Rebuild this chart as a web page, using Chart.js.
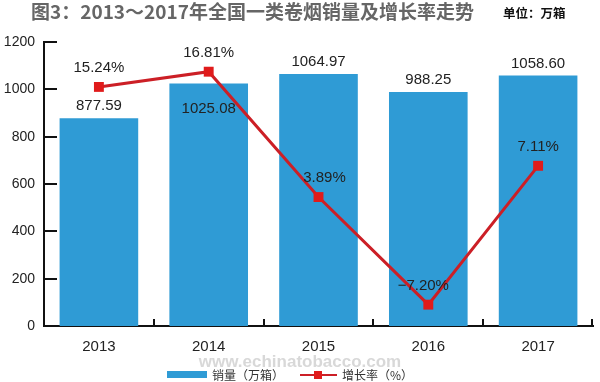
<!DOCTYPE html>
<html><head><meta charset="utf-8">
<script src="https://cdn.jsdelivr.net/npm/chart.js@4.4.0/dist/chart.umd.min.js"></script>
<style>html,body{margin:0;padding:0;background:#fff}#wrap{width:600px;height:382px;position:relative}</style>
</head><body><div id="wrap"><canvas id="c" width="600" height="382"></canvas></div>
<script>
const categories = ['2013', '2014', '2015', '2016', '2017'];
const sales = [877.59, 1025.08, 1064.97, 988.25, 1058.60];
const salesText = ['877.59', '1025.08', '1064.97', '988.25', '1058.60'];
const growth = [15.24, 16.81, 3.89, -7.20, 7.11];
const growthText = ['15.24%', '16.81%', '3.89%', '−7.20%', '7.11%'];
const yTickValues = [0, 200, 400, 600, 800, 1000, 1200];
const salesLabelInside = [false, true, false, false, false];
const titleText = '图3：2013～2017年全国一类卷烟销量及增长率走势';
const unitText = '单位：万箱';
const legendSales = '销量（万箱）';
const legendGrowth = '增长率（%）';
const watermark = 'www.echinatobacco.com';

const BLUE = '#2f9bd5';
const RED = '#cc1f26';
const LATIN = '"Liberation Sans", Arial, sans-serif';
const CJK = '"Noto Sans CJK SC", "Noto Sans", sans-serif';

const extras = {
  id: 'extras',
  afterDatasetsDraw(chart) {
    const ctx = chart.ctx;
    ctx.save();
    ctx.font = '15px ' + LATIN;
    ctx.fillStyle = '#222';
    ctx.textAlign = 'center';
    ctx.textBaseline = 'middle';
    const barMeta = chart.getDatasetMeta(1);
    barMeta.data.forEach((el, i) => {
      const y = salesLabelInside[i] ? el.y + 25 : el.y - 12;
      ctx.fillText(salesText[i], el.x, y);
    });
    const lineMeta = chart.getDatasetMeta(0);
    lineMeta.data.forEach((el, i) => {
      ctx.fillText(growthText[i], el.x + (i === 2 ? 6 : (i === 3 ? -5 : 0)), el.y - 19);
    });
    ctx.restore();
  },
  afterDraw(chart) {
    const ctx = chart.ctx;
    const xs = chart.scales.x, ys = chart.scales.y;
    const left = xs.left, bottom = ys.bottom, right = xs.right;
    ctx.save();
    ctx.fillStyle = '#111';
    yTickValues.forEach(v => {
      const py = Math.round(ys.getPixelForValue(v));
      ctx.fillRect(left, py - 1, 13, 2);
    });
    for (let i = 1; i <= categories.length; i++) {
      let px;
      if (i < categories.length) px = (xs.getPixelForValue(i - 1) + xs.getPixelForValue(i)) / 2;
      else px = right - 1;
      px = Math.round(px);
      ctx.fillRect(px - 1, bottom - 7, 2, 7);
    }
    // title
    ctx.textBaseline = 'middle';
    ctx.textAlign = 'left';
    ctx.fillStyle = '#666';
    ctx.font = 'bold 19px ' + CJK;
    ctx.fillText(titleText, 31, 12);
    ctx.fillStyle = '#111';
    ctx.font = 'bold 12.5px ' + CJK;
    ctx.fillText(unitText, 503, 13);
    // watermark
    ctx.textAlign = 'center';
    ctx.font = 'bold 17px ' + LATIN;
    ctx.fillStyle = 'rgba(200,200,200,0.7)';
    ctx.fillText(watermark, 300, 362);
    // legend
    ctx.textAlign = 'left';
    ctx.fillStyle = BLUE;
    ctx.fillRect(167, 371, 40, 7);
    ctx.fillStyle = '#333';
    ctx.font = '12px ' + CJK;
    ctx.fillText(legendSales, 212, 375);
    ctx.fillStyle = RED;
    ctx.fillRect(300, 374, 37, 2);
    ctx.fillStyle = '#e01b1b';
    ctx.fillRect(314, 371, 8, 8);
    ctx.fillStyle = '#333';
    ctx.fillText(legendGrowth, 342, 375);
    ctx.restore();
  }
};

new Chart(document.getElementById('c'), {
  data: {
    labels: categories,
    datasets: [
      {
        type: 'line',
        label: legendGrowth,
        data: growth,
        yAxisID: 'y1',
        borderColor: RED,
        borderWidth: 3,
        backgroundColor: '#e01b1b',
        pointStyle: 'rect',
        pointRadius: 7,
        pointBorderWidth: 0,
        pointBackgroundColor: '#e01b1b',
        tension: 0,
        order: 0
      },
      {
        type: 'bar',
        label: legendSales,
        data: sales,
        yAxisID: 'y',
        backgroundColor: BLUE,
        categoryPercentage: 1,
        barPercentage: 0.716,
        order: 1
      }
    ]
  },
  options: {
    responsive: false,
    devicePixelRatio: 1,
    animation: false,
    layout: { padding: { top: 42, right: 4, left: 0, bottom: 0 } },
    plugins: { legend: { display: false }, title: { display: false }, tooltip: { enabled: false } },
    scales: {
      x: {
        offset: true,
        grid: { display: false, drawTicks: false, drawOnChartArea: false },
        border: { display: true, color: '#111', width: 2 },
        ticks: { color: '#222', font: { family: LATIN, size: 15 }, padding: 12 },
        afterFit: s => { s.height = 56; }
      },
      y: {
        position: 'left',
        min: 0, max: 1200,
        afterBuildTicks: s => { s.ticks = yTickValues.map(v => ({ value: v })); },
        ticks: { color: '#222', font: { family: LATIN, size: 14 }, padding: 9, callback: v => String(v) },
        grid: { display: false, drawTicks: false, drawOnChartArea: false },
        border: { display: true, color: '#111', width: 2 },
        afterFit: s => { s.width = 44; }
      },
      y1: {
        position: 'right',
        display: false,
        min: -9.40, max: 19.87
      }
    }
  },
  plugins: [extras]
});
</script>
</body></html>
